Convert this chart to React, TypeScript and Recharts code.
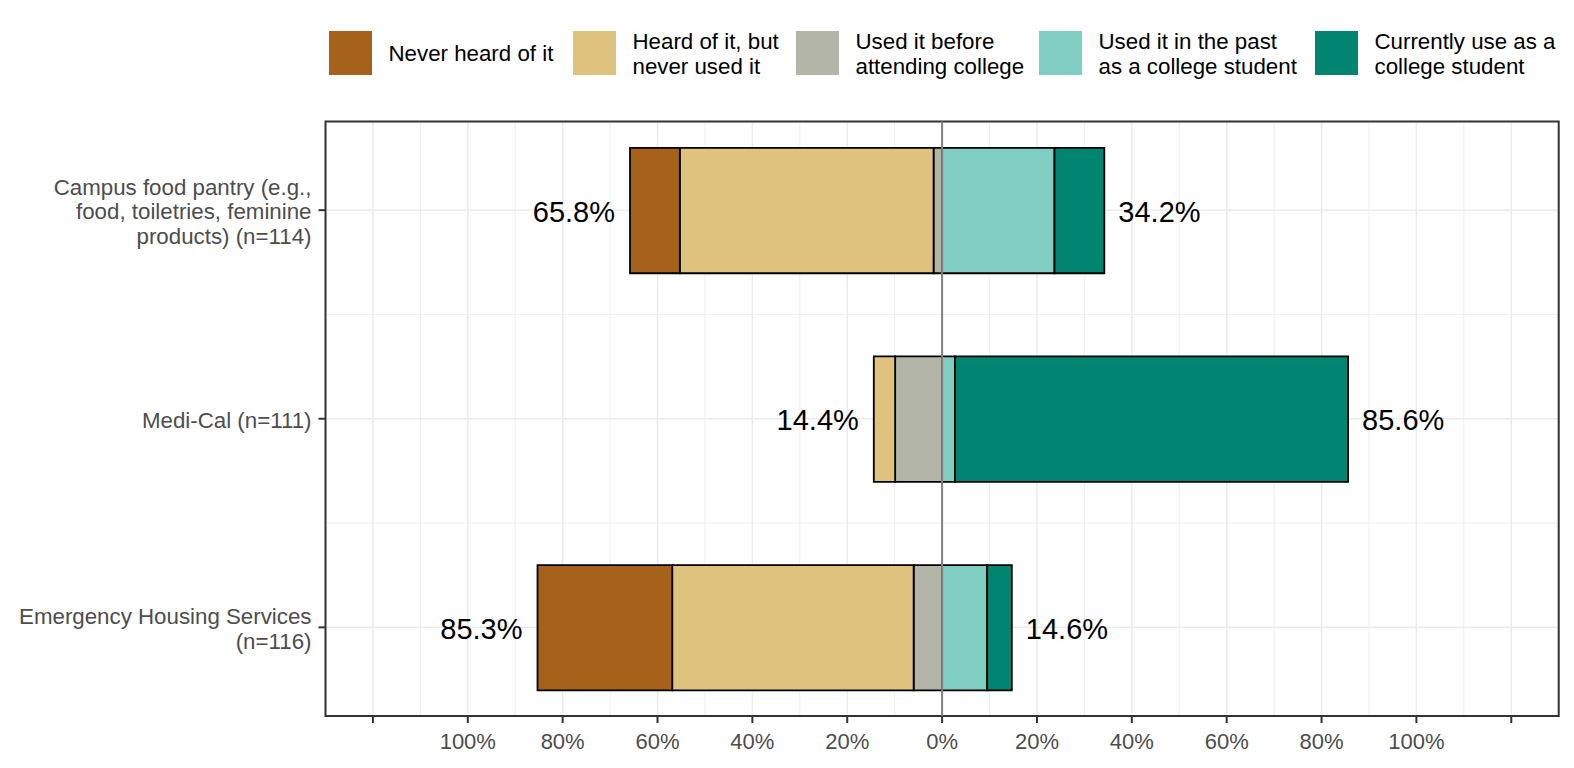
import React from 'react';
import {
  BarChart,
  Bar,
  XAxis,
  YAxis,
  CartesianGrid,
  ReferenceLine,
  ReferenceArea,
  LabelList,
} from 'recharts';

// ---------- data ----------
const categories: string[][] = [
  ['Campus food pantry (e.g.,', 'food, toiletries, feminine', 'products) (n=114)'],
  ['Medi-Cal (n=111)'],
  ['Emergency Housing Services', '(n=116)'],
];

const neverHeard = [10.5, 0, 28.4];
const heardNotUsed = [53.5, 4.5, 50.9];
const usedBefore = [1.8, 9.9, 6.0];
const usedPast = [23.7, 2.7, 9.5];
const currentUse = [10.5, 82.9, 5.2];

const leftLabels = ['65.8%', '14.4%', '85.3%'];
const rightLabels = ['34.2%', '85.6%', '14.6%'];

const xTicks = [-120, -100, -80, -60, -40, -20, 0, 20, 40, 60, 80, 100, 120];
const xMinor = [-110, -90, -70, -50, -30, -10, 10, 30, 50, 70, 90, 110];
const yTicks = [1, 2, 3];
const yMinor = [1.5, 2.5];
const xDomain: [number, number] = [-130, 130];
const yDomain: [number, number] = [0.575, 3.425];

const legendLabels: string[][] = [
  ['Never heard of it'],
  ['Heard of it, but', 'never used it'],
  ['Used it before', 'attending college'],
  ['Used it in the past', 'as a college student'],
  ['Currently use as a', 'college student'],
];
const legendColors = ['#A6611A', '#DFC27D', '#B3B5A8', '#80CDC1', '#018571'];
// legend layout (left edge of each key square)
const legendLeft = [329, 573, 796, 1039, 1315];

const FONT = "'Liberation Sans', Arial, Helvetica, sans-serif";
const leftOrder = ['usedBefore', 'heard', 'never'];
const rightOrder = ['past', 'current'];

function outermost(row: any, order: string[]) {
  let k: string | null = null;
  for (const key of order) if (row[key] !== 0) k = key;
  return k;
}

// table for the library (left side negative for diverging stack)
const data = categories.map((_, i) => {
  const row: any = {
    pos: i + 1,
    usedBefore: -usedBefore[i],
    heard: -heardNotUsed[i],
    never: -neverHeard[i],
    past: usedPast[i],
    current: currentUse[i],
  };
  const lo = outermost(row, leftOrder);
  const ro = outermost(row, rightOrder);
  for (const k of leftOrder) row['lbl_' + k] = k === lo ? leftLabels[i] : '';
  for (const k of rightOrder) row['lbl_' + k] = k === ro ? rightLabels[i] : '';
  return row;
});

const makeLabel = (key: string) => (props: any) => {
  const value = props.value;
  if (!value) return null;
  const vb = props.viewBox || {};
  const x = Number(vb.x ?? props.x);
  const w = Number(vb.width ?? props.width);
  const y = Number(vb.y ?? props.y);
  const h = Number(vb.height ?? props.height);
  const left = Math.min(x, x + w);
  const right = Math.max(x, x + w);
  const cy = y + h / 2;
  const isLeft = leftOrder.includes(key);
  return (
    <text
      x={isLeft ? left - 15 : right + 14}
      y={cy + 11}
      textAnchor={isLeft ? 'end' : 'start'}
      fill="#000"
      fontSize={29}
      fontFamily={FONT}
    >
      {value}
    </text>
  );
};

const YTick = (props: any) => {
  const { x, y, payload } = props;
  const lines = categories[Math.round(payload.value) - 1] || [];
  const lh = 24.5;
  const start = y - ((lines.length - 1) * lh) / 2 + 9;
  return (
    <text x={x} y={start} textAnchor="end" fill="#4D4D4D" fontSize={22.3} fontFamily={FONT}>
      {lines.map((l, i) => (
        <tspan key={i} x={x} dy={i === 0 ? 0 : lh}>
          {l}
        </tspan>
      ))}
    </text>
  );
};

const seriesKeys = ['usedBefore', 'heard', 'never', 'past', 'current'];
const seriesColorIdx: Record<string, number> = { never: 0, heard: 1, usedBefore: 2, past: 3, current: 4 };

const LegendBlock = () => (
  <div
    style={{
      position: 'absolute',
      left: 0,
      top: 30,
      width: 1574,
      height: 50,
      fontFamily: FONT,
      fontSize: 22.3,
      lineHeight: '24.5px',
      color: '#000',
      whiteSpace: 'nowrap',
    }}
  >
    {legendLabels.map((lines, i) => (
      <div
        key={i}
        style={{ position: 'absolute', left: legendLeft[i], top: 0, display: 'flex', alignItems: 'flex-start' }}
      >
        <div style={{ width: 43, height: 44, marginTop: 1, background: legendColors[i] }} />
        <div
          style={{
            marginLeft: 16.5,
            height: 49,
            display: 'flex',
            flexDirection: 'column',
            justifyContent: 'center',
          }}
        >
          {lines.map((l, j) => (
            <div key={j}>{l}</div>
          ))}
        </div>
      </div>
    ))}
  </div>
);

export default function App() {
  return (
    <div style={{ position: 'absolute', left: 0, top: 0, width: 1574, height: 768, background: '#fff' }}>
      <BarChart
        width={1574}
        height={768}
        data={data}
        layout="vertical"
        stackOffset="sign"
        margin={{ top: 121.5, right: 15.3, bottom: 0, left: 0 }}
      >
        <CartesianGrid stroke="#EBEBEB" strokeWidth={0.8} verticalValues={xMinor} horizontalValues={yMinor} />
        <CartesianGrid stroke="#EBEBEB" strokeWidth={1.5} />
        <XAxis
          type="number"
          domain={xDomain}
          ticks={xTicks}
          interval={0}
          allowDataOverflow
          height={52}
          axisLine={false}
          tickSize={7}
          tickMargin={10}
          tickLine={{ stroke: '#333333', strokeWidth: 2 }}
          tick={{ fill: '#4D4D4D', fontSize: 22, fontFamily: FONT }}
          tickFormatter={(v: number) => (Math.abs(v) >= 120 ? '' : `${Math.abs(v)}%`)}
        />
        <YAxis
          type="number"
          dataKey="pos"
          domain={yDomain}
          ticks={yTicks}
          interval={0}
          allowDataOverflow
          width={325.5}
          axisLine={false}
          tickSize={7}
          tickMargin={7}
          tickLine={{ stroke: '#333333', strokeWidth: 2 }}
          tick={<YTick />}
        />
        {seriesKeys.map((k) => (
          <Bar
            key={k}
            dataKey={k}
            stackId="a"
            fill={legendColors[seriesColorIdx[k]]}
            stroke="#000"
            strokeWidth={1.8}
            barSize={125.4}
            isAnimationActive={false}
          >
            <LabelList dataKey={'lbl_' + k} content={makeLabel(k)} />
          </Bar>
        ))}
        <ReferenceLine x={0} stroke="#808080" strokeWidth={2} />
        <ReferenceArea
          x1={xDomain[0]}
          x2={xDomain[1]}
          y1={yDomain[0]}
          y2={yDomain[1]}
          fill="none"
          fillOpacity={0}
          stroke="#333333"
          strokeWidth={2}
          ifOverflow="visible"
        />
      </BarChart>
      <LegendBlock />
    </div>
  );
}
